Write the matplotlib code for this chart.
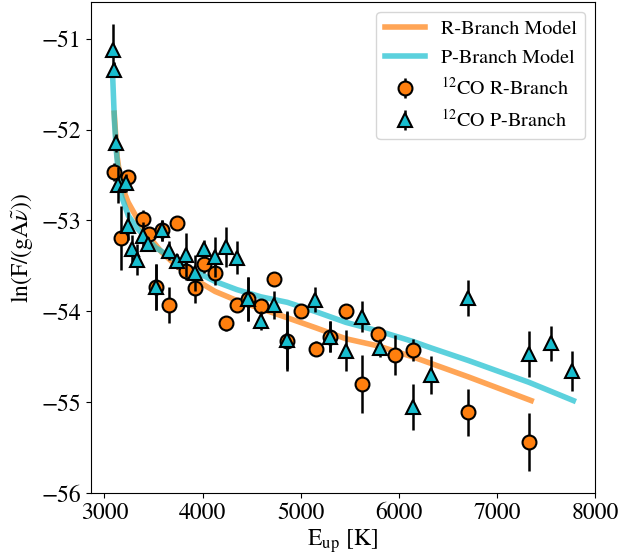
import matplotlib
matplotlib.use("Agg")
import matplotlib.pyplot as plt
import numpy as np

plt.rcParams['font.family'] = ['STIXGeneral', 'DejaVu Serif']
plt.rcParams['mathtext.fontset'] = 'stix'

# 12CO R-branch data
r_E = [3094, 3170, 3242, 3391, 3456, 3524, 3585, 3663, 3738, 3833, 3925, 4019,
       4128, 4241, 4350, 4468, 4597, 4730, 4865, 5005, 5155, 5301, 5461, 5624,
       5793, 5963, 6144, 6711, 7329]
r_val = [-52.47, -53.19, -52.52, -52.98, -53.15, -53.73, -53.11, -53.93, -53.03,
         -53.55, -53.74, -53.48, -53.58, -54.13, -53.93, -53.86, -53.94, -53.64,
         -54.33, -53.99, -54.41, -54.28, -54.00, -54.80, -54.25, -54.48, -54.42,
         -55.11, -55.44]
r_err = [0.10, 0.35, 0.08, 0.10, 0.05, 0.25, 0.11, 0.20, 0.06, 0.10, 0.17, 0.10,
         0.13, 0.08, 0.06, 0.24, 0.06, 0.05, 0.32, 0.06, 0.08, 0.17, 0.08, 0.32,
         0.08, 0.22, 0.12, 0.26, 0.32]

# 12CO P-branch data
p_E = [3086, 3102, 3119, 3143, 3218, 3245, 3279, 3330, 3391, 3449, 3524, 3591,
       3663, 3738, 3833, 3925, 4019, 4128, 4241, 4350, 4468, 4597, 4730, 4865,
       5148, 5301, 5461, 5624, 5810, 6144, 6327, 6711, 7329, 7550, 7771]
p_val = [-51.12, -51.34, -52.15, -52.61, -52.59, -53.06, -53.31, -53.43, -53.17,
         -53.26, -53.73, -53.11, -53.33, -53.45, -53.38, -53.58, -53.31, -53.40,
         -53.29, -53.41, -53.86, -54.10, -53.93, -54.31, -53.87, -54.28, -54.43,
         -54.06, -54.40, -55.05, -54.70, -53.85, -54.47, -54.35, -54.65]
p_err = [0.28, 0.08, 0.10, 0.20, 0.10, 0.15, 0.15, 0.17, 0.15, 0.08, 0.25, 0.11,
         0.10, 0.08, 0.24, 0.20, 0.10, 0.22, 0.22, 0.18, 0.24, 0.10, 0.15, 0.32,
         0.14, 0.17, 0.23, 0.17, 0.10, 0.25, 0.21, 0.20, 0.25, 0.19, 0.22]

# Model curves
rm_E = [3100, 3130, 3170, 3242, 3320, 3391, 3456, 3585, 3738, 3925, 4128, 4350,
        4597, 4865, 5155, 5461, 5793, 6144, 6711, 7350]
rm_val = [-51.82, -52.30, -52.60, -52.80, -52.95, -53.08, -53.18, -53.35, -53.50,
          -53.65, -53.78, -53.88, -53.97, -54.07, -54.18, -54.30, -54.38, -54.50,
          -54.72, -54.98]
pm_E = [3086, 3102, 3119, 3143, 3177, 3245, 3330, 3398, 3524, 3738, 3925, 4128,
        4350, 4597, 4865, 5148, 5461, 5810, 6144, 6327, 6711, 7329, 7780]
pm_val = [-51.46, -51.90, -52.20, -52.50, -52.74, -52.95, -53.08, -53.16, -53.30,
          -53.44, -53.56, -53.67, -53.76, -53.84, -53.90, -54.00, -54.12, -54.22,
          -54.33, -54.40, -54.54, -54.78, -54.98]

fig = plt.figure(figsize=(6.21, 5.59), dpi=100)
ax = fig.add_axes([0.146, 0.1175, 0.812, 0.8785])

ax.plot(rm_E, rm_val, color='C1', lw=4, alpha=0.7, label='R-Branch Model', zorder=2)
ax.plot(pm_E, pm_val, color='C9', lw=4, alpha=0.7, label='P-Branch Model', zorder=2)

ax.errorbar(r_E, r_val, yerr=r_err, fmt='o', color='C1', mec='black', mew=1.5,
            ms=10, ecolor='black', elinewidth=1.8, capsize=0,
            label=r'$^{12}$CO R-Branch', zorder=3)
ax.errorbar(p_E, p_val, yerr=p_err, fmt='^', color='C9', mec='black', mew=1.5,
            ms=10, ecolor='black', elinewidth=1.8, capsize=0,
            label=r'$^{12}$CO P-Branch', zorder=4)

ax.set_xlim(2860, 8000)
ax.set_ylim(-56, -50.6)
ax.set_xticks([3000, 4000, 5000, 6000, 7000, 8000])
ax.set_yticks([-56, -55, -54, -53, -52, -51])
ax.tick_params(labelsize=17)
ax.set_xlabel(r'E$_{\rm up}$ [K]', fontsize=17, labelpad=2)
ax.set_ylabel(r'ln(F/(gA$\tilde{\nu}$))', fontsize=17, labelpad=4)
ax.legend(loc='upper right', fontsize=14.5)

fig.savefig('out.png', dpi=100)
